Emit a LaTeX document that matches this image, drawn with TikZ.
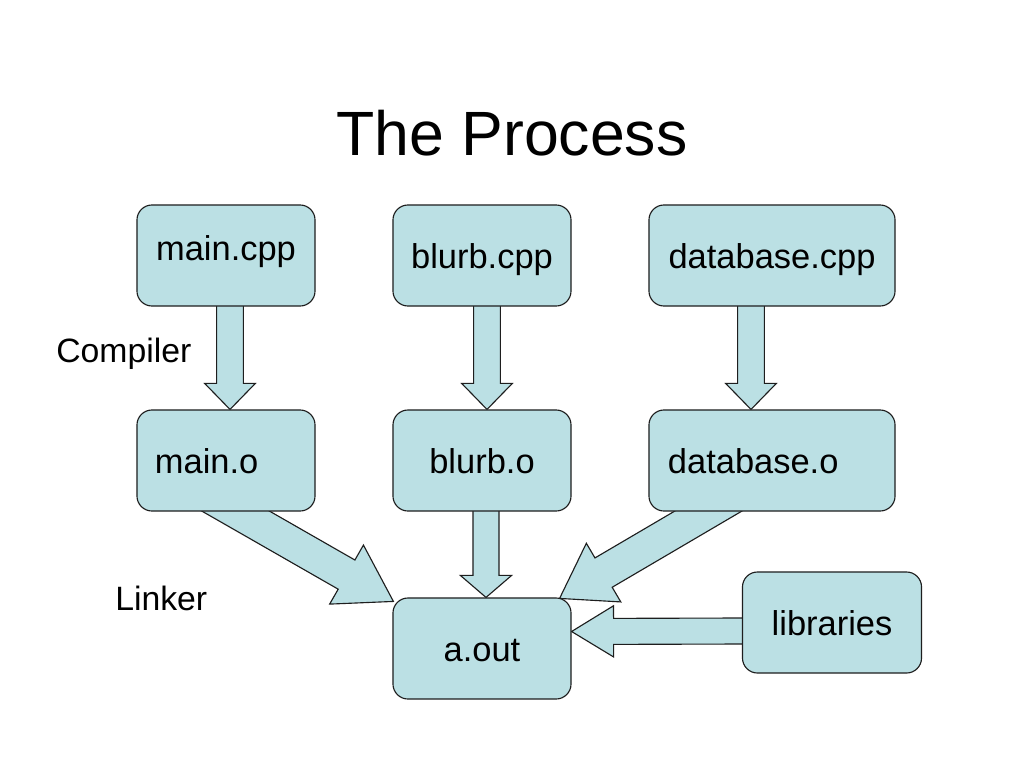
\documentclass[tikz,border=0pt]{standalone}
\usepackage{fontspec}
\setmainfont{Liberation Sans}
\usetikzlibrary{calc}
\pgfdeclarelayer{background}
\pgfsetlayers{background,main}
\definecolor{boxblue}{RGB}{187,224,228}
\definecolor{edge}{RGB}{30,30,30}

\tikzset{
  box/.style={draw=edge, line width=0.8pt, fill=boxblue, rounded corners=0.375cm,
    minimum width=4.45cm, minimum height=2.525cm, inner sep=0pt,
    text height=18.6pt, text depth=0pt, font=\fontsize{24.5}{29}\selectfont},
  fat/.style={draw=edge, line width=0.8pt, fill=boxblue, line join=miter},
  lbl/.style={inner sep=0pt, anchor=base west, font=\fontsize{24}{29}\selectfont}
}

%block arrow: from, tip, shaft half width, head half width, head length
\newcommand{\fatarrow}[5]{%
  \coordinate (fa-s) at ($(#2)!1.25!(#1)$) ;
  \coordinate (fa-h) at ($(#2)!#5!(#1)$) ;
  \draw [fat] ($(fa-s)!#3!90:(#2)$) -- ($(fa-h)!#3!90:(#2)$) -- ($(fa-h)!#4!90:(#2)$)
    -- (#2) -- ($(fa-h)!#4!-90:(#2)$) -- ($(fa-h)!#3!-90:(#2)$) -- ($(fa-s)!#3!-90:(#2)$) -- cycle ;
}

\begin{document}
\begin{tikzpicture}[x=0.025cm, y=-0.025cm]

\useasboundingbox (0,0) rectangle (1024,768) ;

%title
\node (title) [anchor=base, inner sep=0pt, font=\fontsize{44.5}{53}\selectfont] at (512,155) {The Process} ;

%source files
\node (maincpp) [box, text depth=12.2pt] at (226,255.5) {main.cpp} ;
\node (blurbcpp) [box] at (482,255.5) {blurb.cpp} ;
\node (dbcpp) [box, minimum width=6.15cm] at (772,255.5) {database.cpp} ;

%object files
\node (maino) [box, align=left, text width=3.55cm, inner xsep=0.45cm] at (226,460.5) {main.o} ;
\node (blurbo) [box] at (482,460.5) {blurb.o} ;
\node (dbo) [box, align=left, text width=5.2cm, inner xsep=0.475cm] at (772,460.5) {database.o} ;

%result and libraries
\node (aout) [box] at (482,648.5) {a.out} ;
\node (libs) [box, minimum width=4.475cm] at (832,622.5) {libraries} ;

%step labels
\node (compiler) [lbl] at (56,362) {Compiler} ;
\node (linker) [lbl] at (115,610) {Linker} ;

%arrow ends
\coordinate (c1) at ([xshift=0.1cm]maincpp.south) ;
\coordinate (o1) at ([xshift=0.1cm]maino.north) ;
\coordinate (c2) at ([xshift=0.125cm]blurbcpp.south) ;
\coordinate (o2) at ([xshift=0.125cm]blurbo.north) ;
\coordinate (c3) at ([xshift=-0.525cm]dbcpp.south) ;
\coordinate (o3) at ([xshift=-0.525cm]dbo.north) ;
\coordinate (l1) at ([xshift=0.2625cm]maino.south) ;
\coordinate (a1) at ([shift={(0.025cm,-0.1cm)}]aout.north west) ;
\coordinate (l2) at ([xshift=0.1cm]blurbo.south) ;
\coordinate (a2) at ([xshift=0.1cm]aout.north) ;
\coordinate (l3) at ([xshift=-1.6125cm]dbo.south) ;
\coordinate (a3) at ([shift={(-0.3cm,-0.025cm)}]aout.north east) ;
\coordinate (l4) at ([yshift=-0.2125cm]libs.west) ;
\coordinate (a4) at ([yshift=0.425cm]aout.east) ;

\begin{pgfonlayer}{background}
\fill [white] (0,0) rectangle (1024,768) ;

%compiler arrows
\fatarrow{c1}{o1}{0.333cm}{0.633cm}{0.65cm}
\fatarrow{c2}{o2}{0.333cm}{0.633cm}{0.65cm}
\fatarrow{c3}{o3}{0.333cm}{0.633cm}{0.65cm}

%linker arrows
\fatarrow{l1}{a1}{0.42cm}{0.85cm}{1.35cm}
\fatarrow{l2}{a2}{0.325cm}{0.64cm}{0.55cm}
\fatarrow{l3}{a3}{0.425cm}{0.85cm}{1.275cm}
\fatarrow{l4}{a4}{0.325cm}{0.64cm}{1.05cm}
\end{pgfonlayer}

\end{tikzpicture}
\end{document}
